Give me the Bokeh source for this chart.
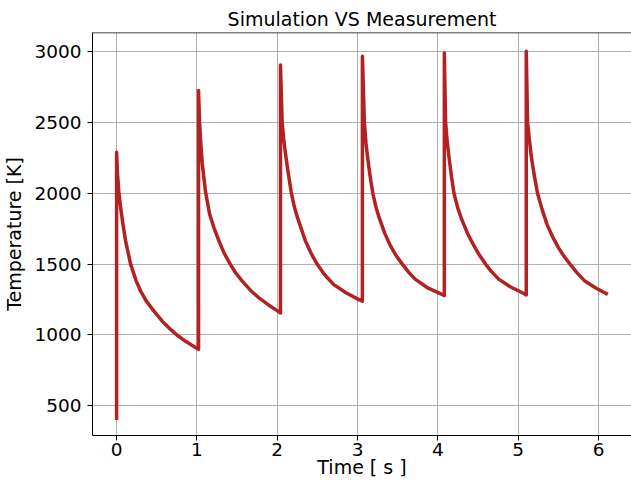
from bokeh.plotting import figure
from bokeh.models import Range1d, FixedTicker, Span
from bokeh.embed import file_html
from bokeh.resources import INLINE

# ---- data (time in s, temperature in K) ----
t_cycle1 = [0.0, 0.0, 0.010, 0.029, 0.050, 0.079, 0.112, 0.174, 0.245, 0.299, 0.37,
            0.465, 0.568, 0.651, 0.743, 0.859, 0.992, 1.02]
T_cycle1 = [400, 2290, 2150, 2000, 1900, 1782, 1664, 1500, 1380, 1310, 1239,
            1168, 1097, 1050, 1003, 955, 908, 898]

t_cycle2 = [1.02, 1.033, 1.046, 1.067, 1.108, 1.158, 1.211, 1.274, 1.336, 1.411,
            1.481, 1.564, 1.668, 1.772, 1.896, 2.008, 2.04]
T_cycle2 = [2725, 2500, 2372, 2207, 2006, 1853, 1758, 1664, 1581, 1503,
            1439, 1380, 1314, 1262, 1210, 1168, 1155]

t_cycle3 = [2.04, 2.061, 2.08, 2.102, 2.135, 2.173, 2.21, 2.248, 2.35, 2.42,
            2.496, 2.59, 2.70, 2.85, 3.01, 3.06]
T_cycle3 = [2905, 2500, 2385, 2280, 2150, 2010, 1910, 1835, 1664, 1578,
            1500, 1425, 1357, 1300, 1251, 1238]

t_cycle4 = [3.06, 3.085, 3.105, 3.13, 3.16, 3.19, 3.23, 3.275, 3.34, 3.41,
            3.48, 3.557, 3.64, 3.72, 3.88, 4.05, 4.08]
T_cycle4 = [2968, 2500, 2350, 2230, 2105, 2000, 1900, 1817, 1715, 1628,
            1560, 1500, 1440, 1392, 1330, 1286, 1278]

t_cycle5 = [4.08, 4.096, 4.115, 4.138, 4.17, 4.20, 4.245, 4.295, 4.37, 4.45,
            4.52, 4.593, 4.67, 4.76, 4.90, 5.05, 5.10]
T_cycle5 = [2990, 2500, 2370, 2255, 2115, 2000, 1900, 1817, 1715, 1628,
            1560, 1500, 1445, 1392, 1340, 1298, 1283]

t_cycle6 = [5.10, 5.116, 5.14, 5.165, 5.20, 5.24, 5.295, 5.357, 5.43, 5.50,
            5.57, 5.64, 5.73, 5.83, 5.97, 6.115]
T_cycle6 = [3002, 2500, 2372, 2250, 2125, 2000, 1890, 1782, 1690, 1616,
            1555, 1503, 1440, 1380, 1330, 1286]

x_ticks = [0, 1, 2, 3, 4, 5, 6]
y_ticks = [500, 1000, 1500, 2000, 2500, 3000]

time_s = t_cycle1 + t_cycle2 + t_cycle3 + t_cycle4 + t_cycle5 + t_cycle6
temp_K = T_cycle1 + T_cycle2 + T_cycle3 + T_cycle4 + T_cycle5 + T_cycle6

FONT = "DejaVu Sans"

p = figure(width=631, height=480, output_backend="svg", toolbar_location=None,
           x_range=Range1d(-0.30, 6.41), y_range=Range1d(290, 3135),
           title="Simulation VS Measurement",
           min_border_left=92, min_border_right=0, min_border_top=32,
           min_border_bottom=44)

p.title.align = "center"
p.title.text_font = FONT
p.title.text_font_size = "19px"
p.title.text_font_style = "normal"
p.title.text_color = "black"
p.title.standoff = 5

p.outline_line_color = None
p.background_fill_color = "white"
p.border_fill_color = "white"

for ax in (p.xaxis[0], p.yaxis[0]):
    ax.axis_line_color = "black"
    ax.axis_line_width = 1
    ax.major_tick_line_color = "black"
    ax.major_tick_out = 5
    ax.major_tick_in = 0
    ax.minor_tick_line_color = None
    ax.major_label_text_font = FONT
    ax.major_label_text_font_size = "18.5px"
    ax.major_label_text_color = "black"
    ax.axis_label_text_font = FONT
    ax.axis_label_text_font_size = "19px"
    ax.axis_label_text_font_style = "normal"
    ax.axis_label_text_color = "black"

p.xaxis.ticker = FixedTicker(ticks=x_ticks)
p.yaxis.ticker = FixedTicker(ticks=y_ticks)

p.yaxis.axis_label = "Temperature [K]"
p.yaxis.major_label_standoff = 6
p.yaxis.axis_label_standoff = 6

p.xaxis.axis_label = "Time [ s ]"
p.xaxis.major_label_standoff = 2
p.xaxis.axis_label_standoff = -3

p.xgrid.grid_line_color = "#b0b0b0"
p.ygrid.grid_line_color = "#b0b0b0"
p.xgrid.grid_line_width = 1
p.ygrid.grid_line_width = 1

# top spine
p.add_layout(Span(location=3135, dimension="width", line_color="black", line_width=1.5))

p.line(time_s, temp_K, line_color="#b22222", line_width=3.5, line_join="round")

open("out.html", "w").write(file_html(p, INLINE))
